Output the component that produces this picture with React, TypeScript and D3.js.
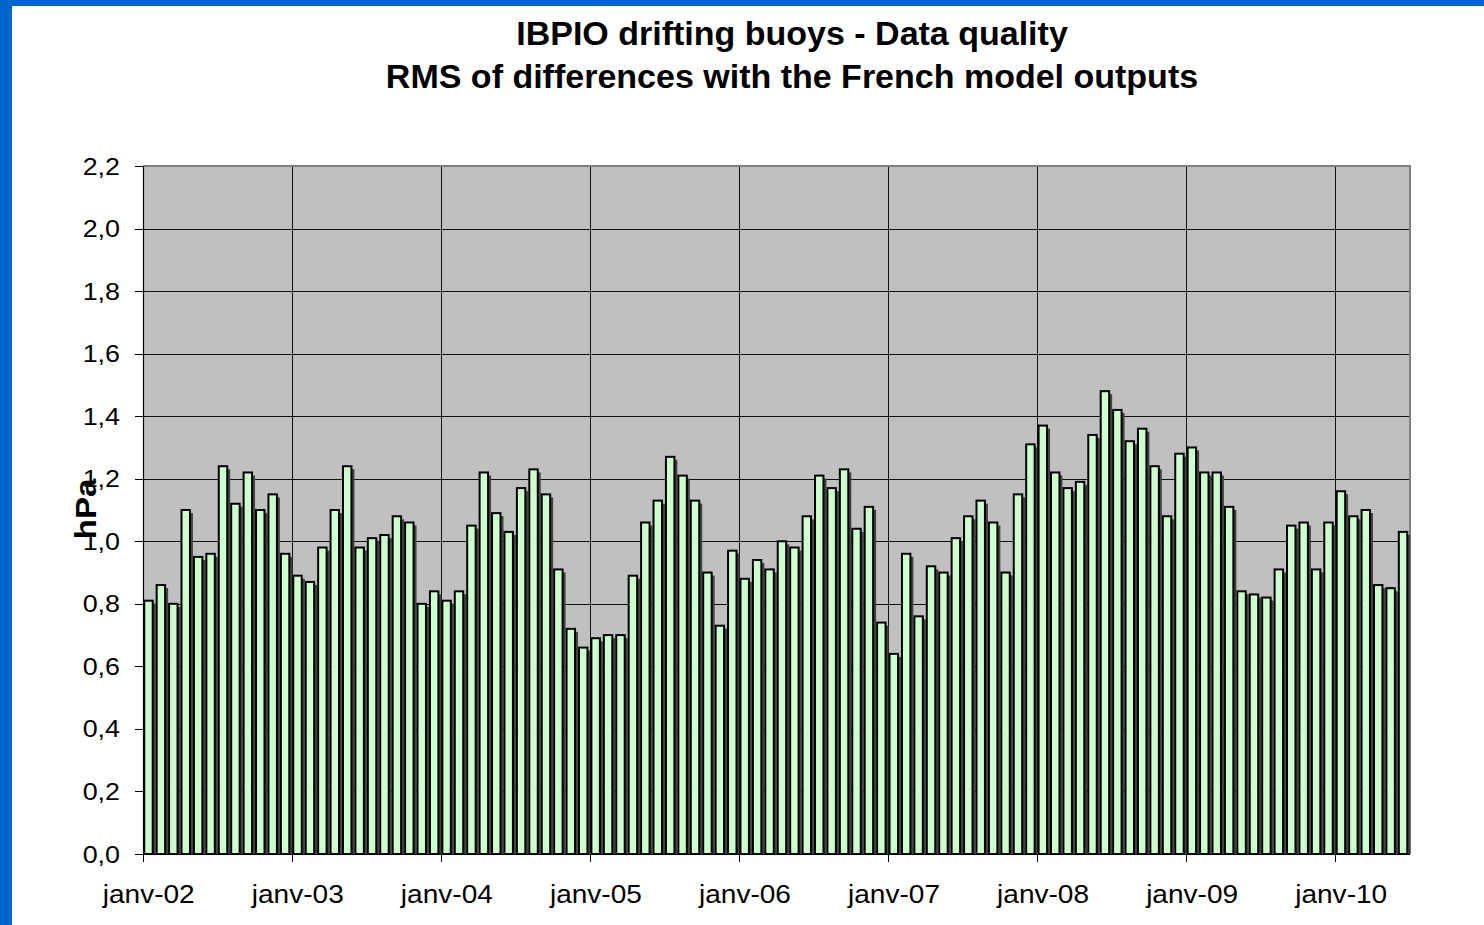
import * as d3 from "d3";
import { useEffect, useRef } from "react";

const title1 = "IBPIO drifting buoys - Data quality";
const title2 = "RMS of differences with the French model outputs";
const yLabel = "hPa";

const years = ["02", "03", "04", "05", "06", "07", "08", "09", "10"];
const monthsPerYear = 12;
const lastYearMonths = 6;

// monthly RMS values (hPa), janv-02 .. juin-10
const rms2002 = [0.81, 0.86, 0.8, 1.1, 0.95, 0.96, 1.24, 1.12, 1.22, 1.1, 1.15, 0.96];
const rms2003 = [0.89, 0.87, 0.98, 1.1, 1.24, 0.98, 1.01, 1.02, 1.08, 1.06, 0.8, 0.84];
const rms2004 = [0.81, 0.84, 1.05, 1.22, 1.09, 1.03, 1.17, 1.23, 1.15, 0.91, 0.72, 0.66];
const rms2005 = [0.69, 0.7, 0.7, 0.89, 1.06, 1.13, 1.27, 1.21, 1.13, 0.9, 0.73, 0.97];
const rms2006 = [0.88, 0.94, 0.91, 1.0, 0.98, 1.08, 1.21, 1.17, 1.23, 1.04, 1.11, 0.74];
const rms2007 = [0.64, 0.96, 0.76, 0.92, 0.9, 1.01, 1.08, 1.13, 1.06, 0.9, 1.15, 1.31];
const rms2008 = [1.37, 1.22, 1.17, 1.19, 1.34, 1.48, 1.42, 1.32, 1.36, 1.24, 1.08, 1.28];
const rms2009 = [1.3, 1.22, 1.22, 1.11, 0.84, 0.83, 0.82, 0.91, 1.05, 1.06, 0.91, 1.06];
const rms2010 = [1.16, 1.08, 1.1, 0.86, 0.85, 1.03];

const yTicks = [0, 0.2, 0.4, 0.6, 0.8, 1.0, 1.2, 1.4, 1.6, 1.8, 2.0, 2.2];

const FONT = "'Liberation Sans', Arial, Helvetica, sans-serif";

const App = () => {
  const ref = useRef<SVGSVGElement | null>(null);

  useEffect(() => {
    const values = [
      ...rms2002, ...rms2003, ...rms2004, ...rms2005, ...rms2006,
      ...rms2007, ...rms2008, ...rms2009, ...rms2010,
    ];
    const months: string[] = [];
    years.forEach((yy, i) => {
      const n = i === years.length - 1 ? lastYearMonths : monthsPerYear;
      for (let m = 0; m < n; m++) months.push(`${yy}-${m}`);
    });
    const data = months.map((m, i) => ({ m, v: values[i] }));

    const width = 1484, height = 925;
    const margin = { top: 166, right: 74, bottom: 71, left: 143 };
    const x0 = margin.left, x1 = width - margin.right;
    const y0 = height - margin.bottom, y1 = margin.top;

    const svg = d3.select(ref.current);
    svg.selectAll("*").remove();

    // blue frame
    svg.append("rect").attr("width", width).attr("height", height).attr("fill", "#0066cc");
    svg.append("rect").attr("x", 12).attr("y", 6).attr("width", width - 12).attr("height", height - 6).attr("fill", "#ffffff");

    const x = d3.scaleBand<string>().domain(months).range([x0, x1]).padding(0);
    const step = x.step();
    const y = d3.scaleLinear().domain([0, 2.2]).range([y0, y1]);

    const fmt = d3.formatLocale({ decimal: ",", thousands: " ", grouping: [3], currency: ["", ""] }).format(".1f");

    // plot area
    svg.append("rect")
      .attr("x", x0).attr("y", y1).attr("width", x1 - x0).attr("height", y0 - y1)
      .attr("fill", "#c0c0c0");

    const yearStarts = years.map((yy) => `${yy}-0`);

    // grid
    svg.append("g").selectAll("line").data(yTicks.slice(1)).enter().append("line")
      .attr("x1", x0).attr("x2", x1)
      .attr("y1", (d) => Math.round(y(d)) + 0.5).attr("y2", (d) => Math.round(y(d)) + 0.5)
      .attr("stroke", "#111").attr("stroke-width", 1);
    svg.append("g").selectAll("line").data(yearStarts.slice(1)).enter().append("line")
      .attr("x1", (d) => Math.round(x(d)!) + 0.5).attr("x2", (d) => Math.round(x(d)!) + 0.5)
      .attr("y1", y1).attr("y2", y0)
      .attr("stroke", "#111").attr("stroke-width", 1);

    // border top/right
    svg.append("path")
      .attr("d", `M${x0},${y1} H${x1} V${y0}`)
      .attr("fill", "none").attr("stroke", "#808080").attr("stroke-width", 2);

    const barOff = step * 0.1, barW = step * 0.68;

    // shadows
    svg.append("g").selectAll("rect").data(data).enter().append("rect")
      .attr("x", (d) => x(d.m)! + barOff + 3)
      .attr("y", (d) => y(d.v) + 3)
      .attr("width", barW)
      .attr("height", (d) => y0 - y(d.v) - 3)
      .attr("fill", "#444");

    // bars
    svg.append("g").selectAll("rect").data(data).enter().append("rect")
      .attr("x", (d) => x(d.m)! + barOff)
      .attr("y", (d) => y(d.v))
      .attr("width", barW)
      .attr("height", (d) => y0 - y(d.v))
      .attr("fill", "#ccffcc")
      .attr("stroke", "#000")
      .attr("stroke-width", 2);

    // axes
    svg.append("line").attr("x1", x0 + 0.5).attr("x2", x0 + 0.5).attr("y1", y1).attr("y2", y0)
      .attr("stroke", "#000").attr("stroke-width", 1.2);
    svg.append("line").attr("x1", x0).attr("x2", x1).attr("y1", y0 + 0.5).attr("y2", y0 + 0.5)
      .attr("stroke", "#000").attr("stroke-width", 1.2);

    const yAxis = svg.append("g");
    yTicks.forEach((t) => {
      const yy = Math.round(y(t)) + 0.5;
      yAxis.append("line").attr("x1", x0 - 8).attr("x2", x0).attr("y1", yy).attr("y2", yy)
        .attr("stroke", "#000");
      yAxis.append("text")
        .attr("transform", `translate(120,${y(t) + 8.5}) scale(1.12,1)`)
        .attr("text-anchor", "end")
        .style("font-family", FONT).style("font-size", "24px").attr("fill", "#000")
        .text(fmt(t));
    });

    const xAxis = svg.append("g");
    yearStarts.forEach((m, i) => {
      const xx = Math.round(x(m)!) + 0.5;
      xAxis.append("line").attr("x1", xx).attr("x2", xx).attr("y1", y0).attr("y2", y0 + 8)
        .attr("stroke", "#000");
      xAxis.append("text")
        .attr("transform", `translate(${x(m)! + step / 2 - 0.5},903) scale(1.1,1)`)
        .attr("text-anchor", "middle")
        .style("font-family", FONT).style("font-size", "25.5px").attr("fill", "#000")
        .text(`janv-${years[i]}`);
    });

    // y label
    svg.append("text")
      .attr("transform", "translate(96,509) rotate(-90) scale(1.1,1)")
      .attr("text-anchor", "middle")
      .style("font-family", FONT).style("font-size", "30px").style("font-weight", "bold")
      .text(yLabel);

    // titles
    svg.append("text").attr("x", 792).attr("y", 45).attr("text-anchor", "middle")
      .style("font-family", FONT).style("font-size", "34px").style("font-weight", "bold")
      .text(title1);
    svg.append("text").attr("x", 792).attr("y", 88).attr("text-anchor", "middle")
      .style("font-family", FONT).style("font-size", "34px").style("font-weight", "bold")
      .text(title2);
  }, []);

  return (
    <svg
      ref={ref}
      width={1484}
      height={925}
      style={{ position: "absolute", left: 0, top: 0, display: "block" }}
    />
  );
};

export default App;
